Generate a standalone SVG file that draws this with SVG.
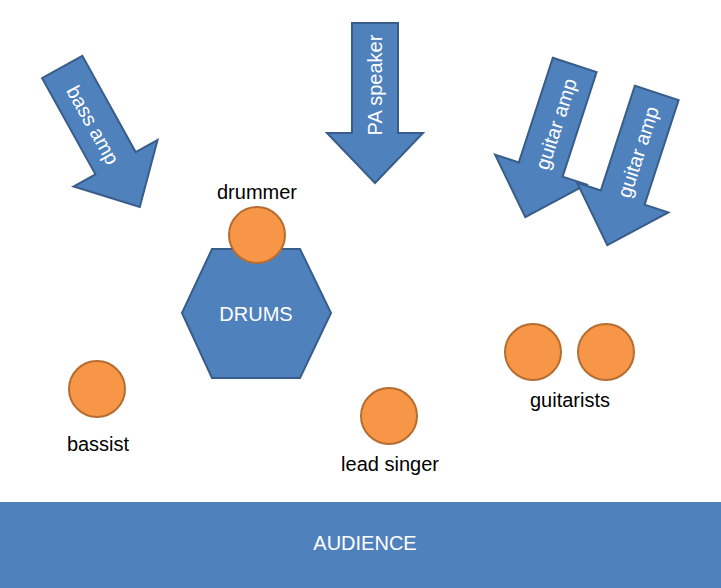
<svg xmlns="http://www.w3.org/2000/svg" width="721" height="588" viewBox="0 0 721 588">
<style>
.ar{fill:#4F81BD;stroke:#385D8A;stroke-width:2}
.p{fill:#F79646;stroke:#B66D31;stroke-width:2}
.t{font-family:"Liberation Sans",Arial,sans-serif;font-size:20px;text-anchor:middle;dominant-baseline:central}
.w{fill:#fff}
</style>
<defs><path id="arr" d="M-23,-80 H23 V30 H48 L0,80 L-48,30 H-23 Z"/></defs>
<g id="audience"><rect x="0" y="502" width="721" height="86" fill="#4F81BD"/><text class="t w" x="365" y="543">AUDIENCE</text></g>
<g id="pa"><use href="#arr" class="ar" transform="translate(375,103)"/><text class="t w" transform="translate(375,85) rotate(-90)">PA speaker</text></g>
<g id="bassamp"><use href="#arr" class="ar" transform="translate(101,137) rotate(-29)"/><text class="t w" transform="translate(93,125) rotate(61)">bass amp</text></g>
<g id="guitaramp1"><use href="#arr" class="ar" transform="translate(550,141) rotate(18)"/><text class="t w" transform="translate(556,124) rotate(-72)">guitar amp</text></g>
<g id="guitaramp2"><use href="#arr" class="ar" transform="translate(632,169) rotate(18)"/><text class="t w" transform="translate(638,152) rotate(-72)">guitar amp</text></g>
<g id="drums"><polygon class="ar" points="182,313 212,249 300,249 331,313 300,378 212,378"/><text class="t w" x="256" y="314">DRUMS</text></g>
<g id="drummer"><circle class="p" cx="257" cy="235" r="28"/><text class="t" x="257" y="192">drummer</text></g>
<g id="bassist"><circle class="p" cx="97" cy="389" r="28"/><text class="t" x="98" y="444">bassist</text></g>
<g id="singer"><circle class="p" cx="389" cy="416" r="28"/><text class="t" x="390" y="464">lead singer</text></g>
<g id="guitarists"><circle class="p" cx="533" cy="352" r="28"/><circle class="p" cx="606" cy="352" r="28"/><text class="t" x="570" y="400">guitarists</text></g>
<g id="connectors"/>
</svg>
